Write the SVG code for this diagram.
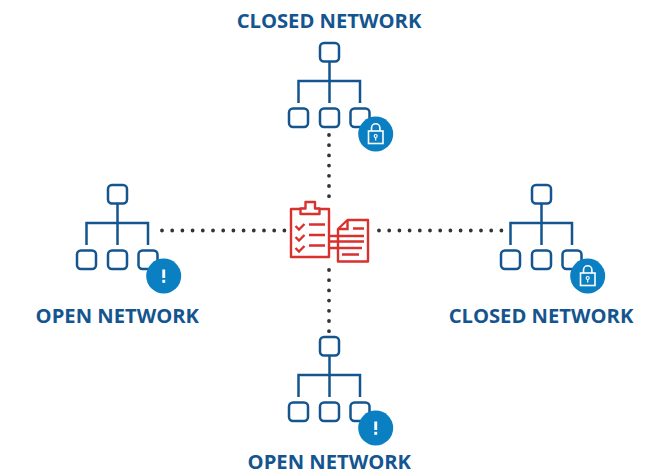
<svg xmlns="http://www.w3.org/2000/svg" width="658" height="473" viewBox="0 0 658 473">
<style>
.l{font-family:"Open Sans","Liberation Sans",sans-serif;font-weight:700;font-size:20.200px;fill:#14558f;text-anchor:middle}
.b{fill:#fff;stroke:#14558f;stroke-width:2.500}
.w{fill:none;stroke:#14558f;stroke-width:2.500}
.d{fill:none;stroke:#333;stroke-width:3.800;stroke-linecap:round;stroke-dasharray:0 10.200}
.r{fill:#fff;stroke:#d8312e;stroke-width:2.400;stroke-linejoin:round}
.rl{fill:none;stroke:#d8312e;stroke-width:2.400}
</style>
<defs>
<g id="tree">
<rect class="b" x="320" y="43" width="19" height="18.500" rx="4"/>
<path class="w" d="M329.500 62V103M298.500 103V81H360V103"/>
<rect class="b" x="289" y="108.500" width="19" height="18.500" rx="4"/>
<rect class="b" x="320" y="108.500" width="19" height="18.500" rx="4"/>
<rect class="b" x="350.500" y="108.500" width="19" height="18.500" rx="4"/>
</g>
<g id="lock">
<circle cx="375.700" cy="134" r="17.500" fill="#0a7fc2"/>
<rect x="368.500" y="131" width="14.500" height="12.500" fill="none" stroke="#fff" stroke-width="1.600"/>
<path d="M371.500 131V128a4.200 4.200 0 0 1 8.400 0V131" fill="none" stroke="#fff" stroke-width="1.600"/>
<circle cx="375.700" cy="136" r="1.500" fill="none" stroke="#fff" stroke-width="1.200"/>
<path d="M375.700 137.500V140.500" stroke="#fff" stroke-width="1.200"/>
</g>
<g id="warn">
<circle cx="375.700" cy="134" r="17.500" fill="#0a7fc2"/>
<rect x="374.300" y="127.500" width="2.900" height="8.500" fill="#fff"/>
<rect x="374.300" y="137.800" width="2.900" height="3" fill="#fff"/>
</g>
</defs>
<g id="connectors">
<path class="d" d="M162 230.500H285M379 230.500H502M329 135V197M329 270V332"/>
</g>
<g id="node-center">
<rect class="r" x="291" y="209" width="38" height="48"/>
<path class="r" d="M300.500 214V208.500H305.500V202H315V208.500H319.500V214Z"/>
<path class="rl" d="M295.500 226L299 229.500L304.500 224M295.500 237L299 240.500L304.500 235M295.500 248L299 251.500L304.500 246M309 224.500H325M309 235H325M309 245.500H325M329 236H338M329 241.500H338M329 248H338"/>
<path class="r" d="M338 229L347.500 220H368V261.500H338Z"/>
<path class="rl" d="M347.500 220V229H338M353 228.500H364M338 236H364M338 241.500H364M338 248H362M342 254.500H359"/>
</g>
<g id="node-top">
<text class="l" x="329" y="27.500">CLOSED NETWORK</text>
<use href="#tree"/><use href="#lock"/>
</g>
<g id="node-left">
<use href="#tree" x="-212" y="142"/><use href="#warn" x="-212" y="142"/>
<text class="l" x="117.300" y="322.500">OPEN NETWORK</text>
</g>
<g id="node-right">
<use href="#tree" x="212" y="142"/><use href="#lock" x="212" y="142"/>
<text class="l" x="541" y="322.500">CLOSED NETWORK</text>
</g>
<g id="node-bottom">
<use href="#tree" y="294"/><use href="#warn" y="294"/>
<text class="l" x="329.300" y="468.500">OPEN NETWORK</text>
</g>
</svg>
